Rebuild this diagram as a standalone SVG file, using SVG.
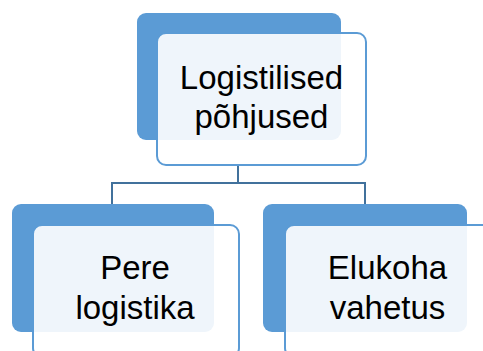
<svg xmlns="http://www.w3.org/2000/svg" width="483" height="351" viewBox="0 0 483 351">
  <style>
    .back { fill: #5B9BD5; }
    .front { fill: #FFFFFF; fill-opacity: 0.9; stroke: #5B9BD5; stroke-width: 2; }
    .label { font-family: "Liberation Sans", Arial, sans-serif; font-size: 33px; fill: #000000; text-anchor: middle; }
    .link { fill: none; stroke: #41719C; stroke-width: 2; }
  </style>
  <rect width="483" height="351" fill="#FFFFFF"/>

  <g id="connectors">
    <path class="link" d="M238 165 V183 M112 183 H365 M112 182 V204 M365 182 V204"/>
  </g>

  <g id="node-root">
    <rect class="back" x="137" y="13" width="204" height="127" rx="9"/>
    <rect class="front" x="157" y="33" width="209" height="132" rx="9"/>
    <text class="label" x="261.5" y="89">Logistilised</text>
    <text class="label" x="261.5" y="128">põhjused</text>
  </g>

  <g id="node-pere">
    <rect class="back" x="12" y="204" width="202" height="128" rx="9"/>
    <rect class="front" x="33" y="225" width="206" height="132" rx="9"/>
    <text class="label" x="135" y="279">Pere</text>
    <text class="label" x="135" y="319">logistika</text>
  </g>

  <g id="node-elukoha">
    <rect class="back" x="263" y="204" width="204" height="128" rx="9"/>
    <rect class="front" x="285" y="225" width="208" height="132" rx="9"/>
    <text class="label" x="387.5" y="279">Elukoha</text>
    <text class="label" x="387.5" y="319">vahetus</text>
  </g>
</svg>
